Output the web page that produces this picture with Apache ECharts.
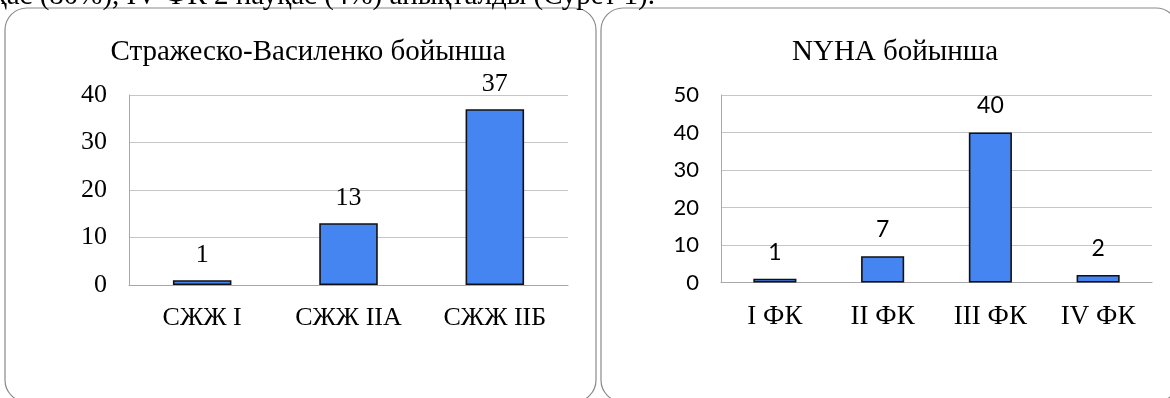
<!DOCTYPE html>
<html>
<head>
<meta charset="utf-8">
<script src="https://cdn.jsdelivr.net/npm/echarts@6/dist/echarts.min.js"></script>
<style>
  html, body { margin: 0; padding: 0; background: #fff; }
  #chart { width: 1170px; height: 398px; }
</style>
</head>
<body>
<div id="chart"></div>
<script>
// Heart failure stage (Strazhesko-Vasilenko) and NYHA functional class counts
const leftTitle = 'Стражеско-Василенко бойынша';
const leftCategories = ['СЖЖ I', 'СЖЖ IIА', 'СЖЖ IIБ'];
const leftValues = [1, 13, 37];
const leftTicks = { min: 0, max: 40, interval: 10 };

const rightTitle = 'NYHA бойынша';
const rightCategories = ['I ФК', 'II ФК', 'III ФК', 'IV ФК'];
const rightValues = [1, 7, 40, 2];
const rightTicks = { min: 0, max: 50, interval: 10 };

const precedingLine = 'науқас (80%), IV ФК 2 науқас (4%) анықталды (Сурет 1).';

const SERIF = '"Liberation Serif", "Times New Roman", serif';
const SANS = 'Lato, "Noto Sans", sans-serif';
const BAR = '#4485F2';
const GRID_LINE = '#c6c6c6';

const chart = echarts.init(document.getElementById('chart'), null, { renderer: 'canvas' });

function valueAxis(gridIndex, ticks, font, size, margin) {
  return {
    type: 'value', gridIndex,
    min: ticks.min, max: ticks.max, interval: ticks.interval,
    axisLine: { show: true, lineStyle: { color: '#a8a8a8', width: 1 } },
    axisTick: { show: false },
    splitLine: { show: true, lineStyle: { color: GRID_LINE, width: 1 } },
    axisLabel: { color: '#000', fontFamily: font, fontSize: size, margin }
  };
}

function categoryAxis(gridIndex, cats, size, margin) {
  return {
    type: 'category', gridIndex, data: cats,
    axisLine: { show: true, lineStyle: { color: '#a8a8a8', width: 1 } },
    axisTick: { show: false },
    axisLabel: { color: '#000', fontFamily: SERIF, fontSize: size, margin, interval: 0 }
  };
}

function barSeries(idx, values, font, size, dist) {
  return {
    type: 'bar', xAxisIndex: idx, yAxisIndex: idx, data: values,
    barWidth: '40%',
    itemStyle: { color: BAR, borderColor: '#111', borderWidth: 1.6 },
    label: { show: true, position: 'top', distance: dist, color: '#000', fontFamily: font, fontSize: size },
    silent: true, animation: false
  };
}

const panelStyle = { fill: 'none', stroke: '#8a8a8a', lineWidth: 1.2 };

chart.setOption({
  animation: false,
  backgroundColor: '#fff',
  title: [
    { text: leftTitle, left: 303, top: 33, textAlign: 'center',
      textStyle: { fontFamily: SERIF, fontWeight: 'normal', fontSize: 29, color: '#000' } },
    { text: rightTitle, left: 890, top: 33, textAlign: 'center',
      textStyle: { fontFamily: SERIF, fontWeight: 'normal', fontSize: 29, color: '#000' } }
  ],
  grid: [
    { left: 129, top: 95, width: 439, height: 190 },
    { left: 721, top: 95, width: 431, height: 187.5 }
  ],
  xAxis: [
    categoryAxis(0, leftCategories, 26, 20),
    categoryAxis(1, rightCategories, 27, 21)
  ],
  yAxis: [
    valueAxis(0, leftTicks, SERIF, 26, 22),
    valueAxis(1, rightTicks, SANS, 22, 22)
  ],
  series: [
    barSeries(0, leftValues, SERIF, 26, 12),
    barSeries(1, rightValues, SANS, 23, 15)
  ],
  graphic: [
    { type: 'rect', shape: { x: 5, y: 8, width: 591, height: 394, r: 22 }, style: panelStyle, silent: true },
    { type: 'rect', shape: { x: 601, y: 8, width: 577, height: 394, r: 22 }, style: panelStyle, silent: true },
    { type: 'text', x: 655, y: -4,
      style: { text: precedingLine, fill: '#000', font: '29px ' + SERIF, textAlign: 'right', textVerticalAlign: 'middle' },
      silent: true }
  ]
});
</script>
</body>
</html>
